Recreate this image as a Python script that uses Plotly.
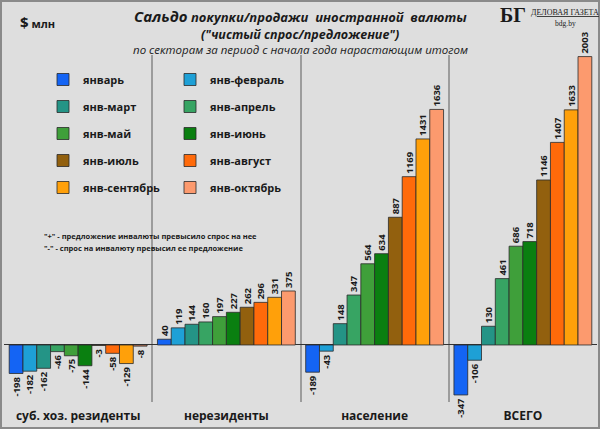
import plotly.graph_objects as go

# ---- data ----
sectors = ["суб. хоз. резиденты", "нерезиденты", "население", "ВСЕГО"]
periods = ["январь", "янв-февраль", "янв-март", "янв-апрель", "янв-май",
           "янв-июнь", "янв-июль", "янв-август", "янв-сентябрь", "янв-октябрь"]
residents = [-198, -182, -162, -46, -75, -144, -3, -58, -129, -8]
nonresidents = [40, 119, 144, 160, 197, 227, 262, 296, 331, 375]
population = [-189, -43, 148, 347, 564, 634, 887, 1169, 1431, 1636]
total = [-347, -106, 130, 461, 686, 718, 1146, 1407, 1633, 2003]
colors = ["#1464f4", "#1ea0d6", "#249486", "#37a463", "#3f9f3a",
          "#0a7f10", "#92600e", "#ff6a0a", "#ffa00a", "#fc9a6e"]

W, H = 600, 429
ML, MR, MT, MB = 4, 3, 55, 27
PW, PH = W - ML - MR, H - MT - MB


def px(x):
    return (x - ML) / PW


def py(y):
    return (H - MB - y) / PH


FONT = "Open Sans"
fig = go.Figure()
for i, name in enumerate(periods):
    vals = [residents[i], nonresidents[i], population[i], total[i]]
    fig.add_trace(go.Bar(
        x=sectors, y=vals, name=name,
        marker=dict(color=colors[i], line=dict(color="#2a2a2a", width=0.8)),
        text=[str(v) for v in vals], textposition="outside", textangle=-90,
        textfont=dict(family=FONT, size=9.5, color="#1a1a1a", weight="bold"),
        constraintext="none", cliponaxis=False,
        legend="legend" if i % 2 == 0 else "legend2",
        legendgroup=name,
    ))

legend_common = dict(
    bgcolor="rgba(0,0,0,0)", borderwidth=0, tracegroupgap=8,
    traceorder="grouped", orientation="v",
    font=dict(family=FONT, size=11, color="#1a1a1a", weight="bold"),
    xanchor="left", yanchor="top", itemwidth=30,
)

fig.update_layout(
    width=W, height=H,
    margin=dict(l=ML, r=MR, t=MT, b=MB, pad=0),
    paper_bgcolor="#dedede", plot_bgcolor="#dedede",
    barmode="group", bargap=0.07, bargroupgap=0,
    showlegend=True,
    legend=dict(legend_common, x=px(43), y=py(65)),
    legend2=dict(legend_common, x=px(170), y=py(65)),
    xaxis=dict(type="category", categoryorder="array", categoryarray=sectors,
               range=[-0.5, 3.5], tickson="boundaries", showgrid=True,
               gridcolor="#9c9c9c", gridwidth=2, ticks="", showline=False,
               zeroline=False, ticklabelstandoff=5,
               tickfont=dict(family=FONT, size=12, color="#1a1a1a", weight="bold")),
    yaxis=dict(range=[-396, 2014], showgrid=False, showticklabels=False,
               zeroline=True, zerolinecolor="#333333", zerolinewidth=1,
               ticks=""),
    font=dict(family=FONT),
)


def note(x, y, text, size, family=FONT, xanchor="center"):
    return dict(x=px(x), y=py(y), xref="paper", yref="paper", text=text,
                showarrow=False, xanchor=xanchor, yanchor="middle",
                font=dict(family=family, size=size, color="#1a1a1a"))


ann = [
    note(300, 16, "<b><i><span style='font-size:15px'>Сальдо</span> покупки/продажи  иностранной  валюты</i></b>", 13),
    note(300, 34, "<b><i>(\"чистый спрос/предложение\")</i></b>", 12.5),
    note(300, 50, "<i>по секторам за период с начала года нарастающим итогом</i>", 11.5),
    note(18, 22, "<b><span style='font-size:15px'>$</span> млн</b>", 11, xanchor="left"),
    note(42, 236, "<b>\"+\" - предложение инвалюты превысило спрос на нее</b>", 7.5, xanchor="left"),
    note(42, 248, "<b>\"-\" - спрос на инвалюту превысил ее предложение</b>", 7.5, xanchor="left"),
    note(513, 15, "<b>БГ</b>", 20, family="Liberation Serif"),
    note(565, 12, "<u>ДЕЛОВАЯ ГАЗЕТА</u>", 8, family="Liberation Serif"),
    note(565, 24, "bdg.by", 7.5, family="Liberation Serif"),
]
fig.update_layout(annotations=ann)

fig.add_shape(type="rect", xref="paper", yref="paper",
              x0=px(1), x1=px(599), y0=py(428), y1=py(1),
              line=dict(color="#8a8a8a", width=2), fillcolor="rgba(0,0,0,0)",
              layer="above")

fig.write_html("out.html", config={"displayModeBar": False},
               post_script="document.body.style.margin='0';document.body.style.padding='0';")
